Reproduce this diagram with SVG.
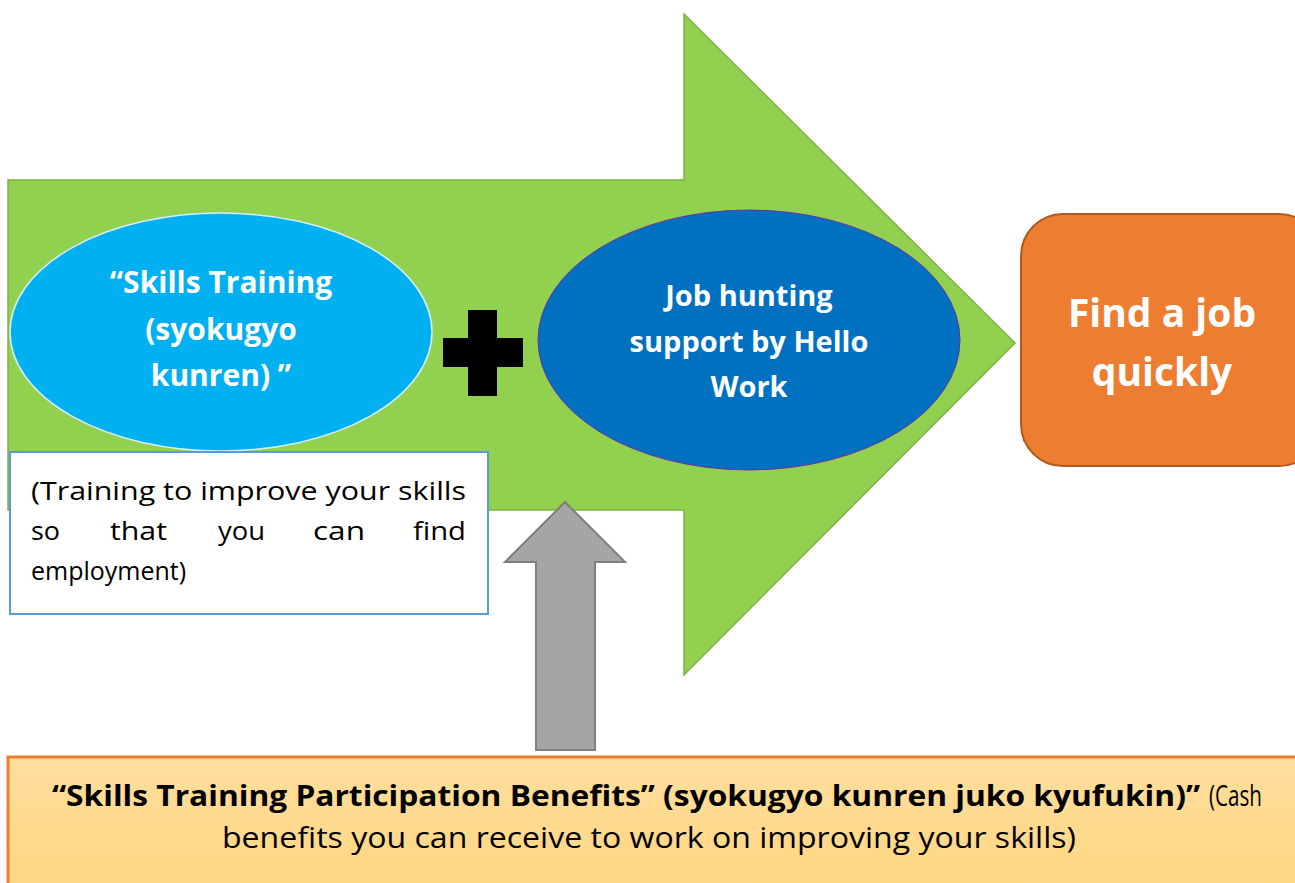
<svg xmlns="http://www.w3.org/2000/svg" width="1295" height="883" viewBox="0 0 1295 883">
<defs>
<linearGradient id="bg" x1="0" y1="0" x2="0" y2="1">
<stop offset="0" stop-color="#FFDE9E"/>
<stop offset="1" stop-color="#FFD57F"/>
</linearGradient>
<style>
.w{fill:#fff;font-family:"Open Sans","Liberation Sans",sans-serif;font-weight:bold;text-anchor:middle}
.c{font-family:"Open Sans","Liberation Sans",sans-serif;fill:#000}
</style>
</defs>
<rect width="1295" height="883" fill="#fff"/>
<g id="connectors">
<polygon id="bigArrow" points="8,180 684,180 684,14 1015,343 684,675 684,510 8,510" fill="#92D050" stroke="#7CB342" stroke-width="1.5"/>
<polygon id="upArrow" points="536,750 536,562 505,562 565,502 625,562 595,562 595,750" fill="#A5A5A5" stroke="#7F7F7F" stroke-width="2"/>
</g>
<g id="skills">
<ellipse cx="221" cy="332" rx="211" ry="119" fill="#00B0F0" stroke="#D6EEF8" stroke-width="1.5"/>
<text class="w" font-size="30" x="221" y="293">“Skills Training</text>
<text class="w" font-size="30" x="221" y="340">(syokugyo</text>
<text class="w" font-size="30" x="221" y="386">kunren) ”</text>
</g>
<g id="plus">
<polygon points="468,310 497,310 497,338 523,338 523,367 497,367 497,396 468,396 468,367 443,367 443,338 468,338" fill="#000"/>
</g>
<g id="jobhunting">
<ellipse cx="749" cy="340" rx="211" ry="130" fill="#0070C0" stroke="#7030A0" stroke-width="1"/>
<text class="w" font-size="29" x="749" y="306">Job hunting</text>
<text class="w" font-size="29" x="749" y="352">support by Hello</text>
<text class="w" font-size="29" x="749" y="397">Work</text>
</g>
<g id="findjob">
<rect x="1021" y="214" width="300" height="252" rx="42" fill="#ED7D31" stroke="#AE5A21" stroke-width="2"/>
<text class="w" font-size="39" x="1162" y="327">Find a job</text>
<text class="w" font-size="39" x="1162" y="386">quickly</text>
</g>
<g id="trainingNote">
<rect x="10" y="452" width="478" height="162" fill="#fff" stroke="#5B9BD5" stroke-width="2"/>
<text class="c" font-size="25" x="31" y="500" textLength="435" lengthAdjust="spacingAndGlyphs">(Training to improve your skills</text>
<text class="c" font-size="25" y="540"><tspan x="31" textLength="29" lengthAdjust="spacingAndGlyphs">so</tspan><tspan x="110" textLength="57" lengthAdjust="spacingAndGlyphs">that</tspan><tspan x="218" textLength="47" lengthAdjust="spacingAndGlyphs">you</tspan><tspan x="313" textLength="52" lengthAdjust="spacingAndGlyphs">can</tspan><tspan x="413" textLength="53" lengthAdjust="spacingAndGlyphs">find</tspan></text>
<text class="c" font-size="25" x="31" y="580" textLength="155" lengthAdjust="spacingAndGlyphs">employment)</text>
</g>
<g id="benefits">
<rect x="8" y="757" width="1300" height="140" fill="url(#bg)" stroke="#ED7D31" stroke-width="3"/>
<text class="c" font-size="29" y="806"><tspan x="52" font-weight="bold" textLength="1148" lengthAdjust="spacingAndGlyphs">“Skills Training Participation Benefits” (syokugyo kunren juko kyufukin)”</tspan><tspan x="1209" textLength="53" lengthAdjust="spacingAndGlyphs">(Cash</tspan></text>
<text class="c" font-size="29" x="222" y="848" textLength="854" lengthAdjust="spacingAndGlyphs">benefits you can receive to work on improving your skills)</text>
</g>
</svg>
